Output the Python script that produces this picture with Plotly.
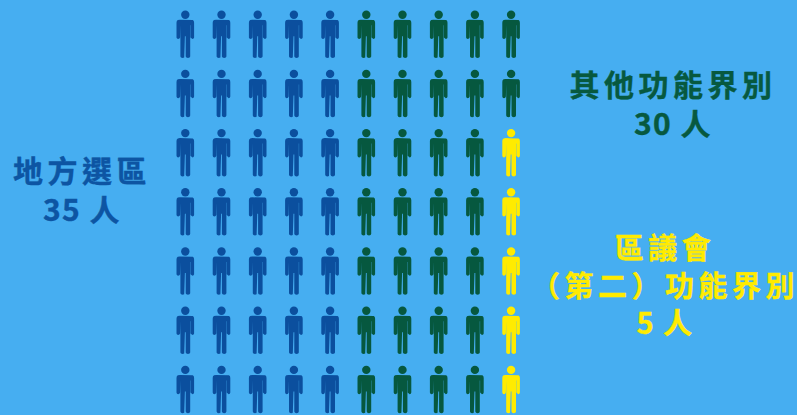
import plotly.graph_objects as go

# Seats per group, filled column by column from the left
groups = ["地方選區", "其他功能界別", "區議會(第二)功能界別"]
seats = [35, 30, 5]
colors = ["#0B4F9E", "#06583F", "#FFEB00"]
text_colors = ["#0D55A3", "#07593F", "#FFEB00"]
labels = [
    "地方選區<br>35 人",
    "其他功能界別<br>30 人",
    "區議會<br>（第二）功能界別<br>5 人",
]
label_x = [81.5, 673, 665]
label_y = [188, 102.5, 283]
label_size = [30, 30, 29]

ROWS = 7
COLS = 10
COL_PITCH = 36.2
ROW_PITCH = 59.2
FIRST_COL = 185.3
FIRST_ROW = 34.2
WIDTH, HEIGHT = 797, 415
BG = "#46AEF1"

# Outline of the figure's body in pixels, relative to the figure's centre
BODY = [
    (-5.5, -14.5), (5.5, -14.5), (7.5, -14.2), (8.5, -13.2), (8.8, -11.5),
    (8.8, 3.2), (8.3, 4.3), (7.1, 4.8), (5.9, 4.3), (5.2, 3.2),
    (5.2, -9), (4.9, -9), (4.9, 22.2), (4.3, 23.3), (2.7, 23.8), (1.1, 23.3), (0.4, 22.2),
    (0.4, 2), (-0.4, 2),
    (-0.4, 22.2), (-1.1, 23.3), (-2.7, 23.8), (-4.3, 23.3), (-4.9, 22.2), (-4.9, -9),
    (-5.2, -9), (-5.2, 3.2), (-5.9, 4.3), (-7.1, 4.8), (-8.3, 4.3), (-8.8, 3.2),
    (-8.8, -11.5), (-8.5, -13.2), (-7.5, -14.2), (-5.5, -14.5),
]
HEAD_OFFSET = -19.5


def cells():
    for col in range(COLS):
        for row in range(ROWS):
            yield col, row


fig = go.Figure()
grid = cells()
for name, count, color in zip(groups, seats, colors):
    body_x, body_y, head_x, head_y = [], [], [], []
    for _ in range(count):
        col, row = next(grid)
        body_x += [col + dx / COL_PITCH for dx, _d in BODY] + [None]
        body_y += [row + dy / ROW_PITCH for _d, dy in BODY] + [None]
        head_x.append(col)
        head_y.append(row + HEAD_OFFSET / ROW_PITCH)
    fig.add_trace(go.Scatter(
        x=body_x, y=body_y, mode="lines", fill="toself", fillcolor=color,
        line=dict(width=0, color=color), name=name, hoverinfo="skip",
    ))
    fig.add_trace(go.Scatter(
        x=head_x, y=head_y, mode="markers", name=name, hoverinfo="skip",
        marker=dict(symbol="circle", size=8.4, color=color, line=dict(width=0)),
    ))

for text, x, y, color, size in zip(labels, label_x, label_y, text_colors, label_size):
    fig.add_annotation(
        text=text, x=x / WIDTH, y=1 - y / HEIGHT, xref="paper", yref="paper",
        showarrow=False, align="center", xanchor="center", yanchor="middle",
        font=dict(family="Noto Sans CJK TC", size=size, color=color, weight="bold"),
    )

fig.update_layout(
    width=WIDTH, height=HEIGHT, margin=dict(l=0, r=0, t=0, b=0),
    paper_bgcolor=BG, plot_bgcolor=BG, showlegend=False,
    xaxis=dict(visible=False, range=[-FIRST_COL / COL_PITCH, (WIDTH - FIRST_COL) / COL_PITCH]),
    yaxis=dict(visible=False, range=[(HEIGHT - FIRST_ROW) / ROW_PITCH, -FIRST_ROW / ROW_PITCH]),
)

# Open up the tracking of the heading lines, keep the count lines tighter,
# and thicken the strokes of the lettering a little
spacing = """
document.querySelectorAll('.annotation-text tspan.line').forEach(t => {
  t.style.letterSpacing = /[0-9]/.test(t.textContent) ? '1.5px' : '4.5px';
  t.style.stroke = getComputedStyle(t).fill;
  t.style.strokeWidth = '0.4px';
});
"""
fig.write_html("out.html", config={"displayModeBar": False}, post_script=spacing)
